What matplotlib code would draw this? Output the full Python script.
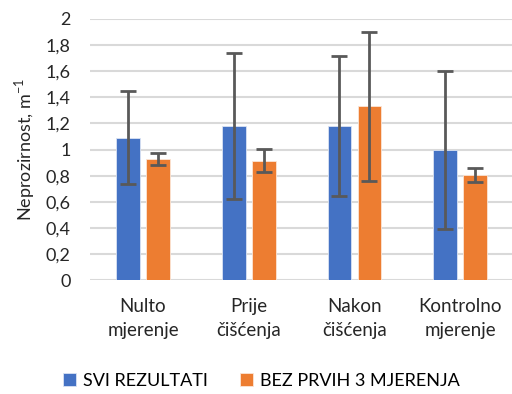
import matplotlib.pyplot as plt
import numpy as np

plt.rcParams['font.family'] = ['Lato', 'DejaVu Sans']

kategorije = ['Nulto\nmjerenje', 'Prije\nčišćenja', 'Nakon\nčišćenja', 'Kontrolno\nmjerenje']
svi = [1.09, 1.18, 1.18, 1.00]
svi_err = [0.355, 0.56, 0.535, 0.605]
bez3 = [0.925, 0.915, 1.33, 0.805]
bez3_err = [0.045, 0.088, 0.57, 0.055]
y_ticks = [0, 0.2, 0.4, 0.6, 0.8, 1, 1.2, 1.4, 1.6, 1.8, 2]

fig = plt.figure(figsize=(5.12, 3.94), dpi=100)
ax = fig.add_axes([0.176, 0.289, 0.826, 0.663])

x = np.arange(len(kategorije))
w = 0.225
d = 0.142
err_kw = dict(ecolor='#595959', elinewidth=2, capsize=6, capthick=2)
ax.bar(x - d, svi, w, yerr=svi_err, color='#4472c4', edgecolor='#dae3f3',
       linewidth=0.6, error_kw=err_kw, label='SVI REZULTATI', zorder=3)
ax.bar(x + d, bez3, w, yerr=bez3_err, color='#ed7d31', edgecolor='#fbe5d6',
       linewidth=0.6, error_kw=err_kw, label='BEZ PRVIH 3 MJERENJA', zorder=3)

ax.set_xlim(-0.5, 3.5)
ax.set_ylim(0, 2)
ax.set_yticks(y_ticks)
ax.set_yticklabels([str(v).replace('.', ',') for v in y_ticks])
ax.set_xticks(x)
ax.set_xticklabels(kategorije, linespacing=1.5)
ax.tick_params(length=0, labelsize=13, colors='#262626')
ax.tick_params(axis='x', labelsize=13.5, pad=13)
ax.tick_params(axis='y', pad=14)
ax.grid(axis='y', color='#d9d9d9', linewidth=1.5, zorder=0)
for s in ax.spines.values():
    s.set_visible(False)

ax.set_ylabel('Neprozirnost, m$^{\\mathregular{-1}}$', fontsize=13, color='#262626', labelpad=6)

fig.legend(loc='center', bbox_to_anchor=(0.51, 0.033), ncol=2, frameon=False,
           fontsize=13, handlelength=0.75, handleheight=0.75, handletextpad=0.35,
           columnspacing=1.8)

fig.savefig('out.png', dpi=100)
